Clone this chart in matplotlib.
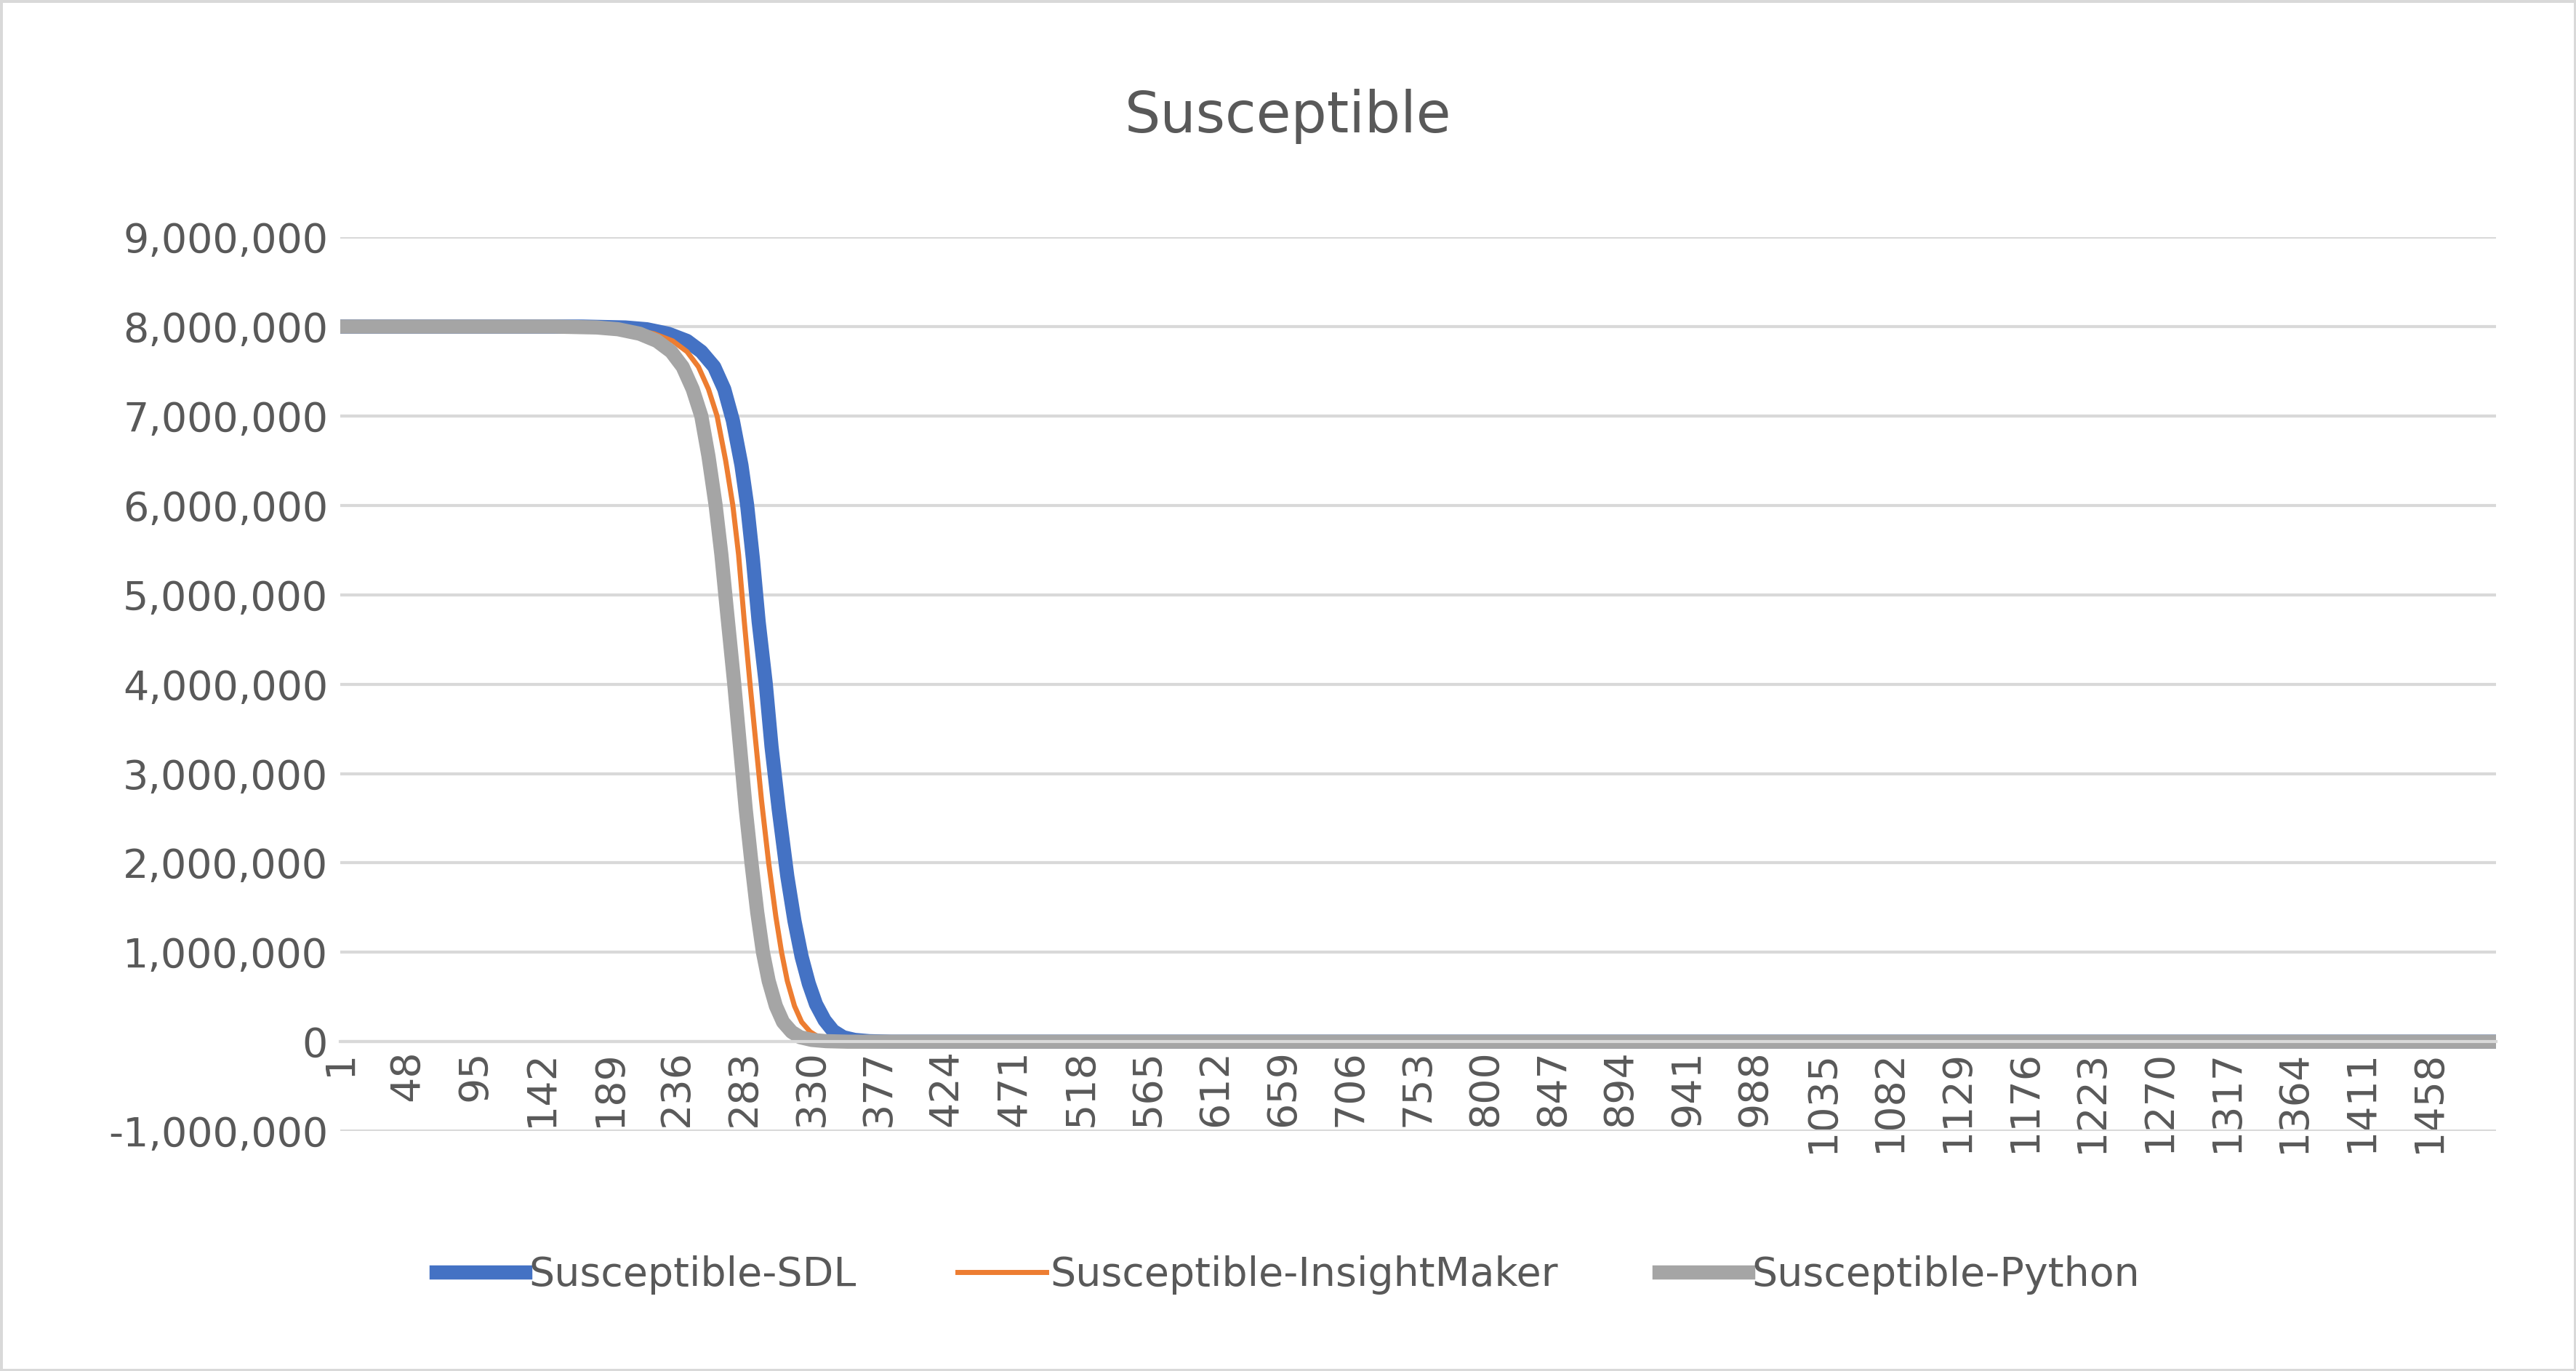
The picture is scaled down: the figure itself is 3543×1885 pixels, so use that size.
import matplotlib
matplotlib.use("Agg")
import matplotlib.pyplot as plt
from matplotlib.ticker import FuncFormatter

# values (day, susceptible count in millions)
days_python = [1, 150, 180, 195, 210, 222, 232, 240, 247, 253, 258, 263, 267, 271, 276, 280, 284, 288, 292, 296, 300, 305, 310, 316, 322, 330, 340, 355, 1500]
vals_python = [8.0, 8.0, 7.99, 7.97, 7.92, 7.84, 7.72, 7.55, 7.3, 7.0, 6.55, 6.0, 5.45, 4.8, 4.0, 3.3, 2.6, 2.0, 1.45, 1.0, 0.68, 0.4, 0.22, 0.11, 0.05, 0.02, 0.006, 0.0, 0.0]

days_insight = [1, 160, 190, 205, 220, 233, 243, 251, 258, 264, 270, 275, 279, 283, 287, 291, 295, 300, 305, 309, 313, 318, 323, 329, 335, 343, 353, 368, 1500]
vals_insight = [8.0, 8.0, 7.99, 7.97, 7.92, 7.84, 7.72, 7.55, 7.3, 7.0, 6.5, 6.0, 5.45, 4.7, 4.0, 3.35, 2.7, 2.0, 1.4, 1.0, 0.68, 0.4, 0.22, 0.11, 0.05, 0.02, 0.006, 0.0, 0.0]

days_sdl = [1, 170, 200, 215, 230, 243, 253, 262, 269, 275, 281, 285, 289, 293, 298, 302, 307, 313, 318, 323, 328, 333, 339, 345, 352, 360, 370, 385, 1500]
vals_sdl = [8.0, 8.0, 7.99, 7.97, 7.92, 7.84, 7.72, 7.55, 7.3, 6.95, 6.45, 6.0, 5.4, 4.7, 4.0, 3.3, 2.6, 1.85, 1.35, 0.95, 0.65, 0.42, 0.24, 0.12, 0.05, 0.02, 0.006, 0.0, 0.0]

tick_days = list(range(1, 1459, 47))
grey = "#595959"

fig = plt.figure(figsize=(35.43, 18.85), dpi=100)
fig.patch.set_edgecolor("#d9d9d9")
fig.patch.set_linewidth(5)
ax = fig.add_axes([0.132, 0.175, 0.837, 0.652])

ax.plot(days_sdl, [v * 1e6 for v in vals_sdl], color="#4472c4", lw=14, label="Susceptible-SDL")
ax.plot(days_insight, [v * 1e6 for v in vals_insight], color="#ed7d31", lw=5, label="Susceptible-InsightMaker")
ax.plot(days_python, [v * 1e6 for v in vals_python], color="#a5a5a5", lw=14, label="Susceptible-Python")

ax.set_xlim(1, 1505)
ax.set_ylim(-1e6, 9e6)
ax.spines["bottom"].set_position(("data", 0))
ax.set_yticks(range(-1000000, 9000001, 1000000))
ax.yaxis.set_major_formatter(FuncFormatter(lambda v, p: f"{int(v):,}"))
ax.set_xticks(tick_days)
ax.set_xticklabels([str(d) for d in tick_days])
ax.grid(axis="y", color="#d9d9d9", lw=3)
ax.set_axisbelow(True)
for s in ["top", "right", "left"]:
    ax.spines[s].set_visible(False)
ax.spines["bottom"].set_color("#d9d9d9")
ax.spines["bottom"].set_linewidth(3)
ax.tick_params(axis="both", length=0, labelsize=40, colors=grey, pad=12)
ax.tick_params(axis="x", labelrotation=90, pad=8)

fig.text(0.5, 0.915, "Susceptible", ha="center", va="center", fontsize=56, color=grey)
fig.legend(loc="center", bbox_to_anchor=(0.5, 0.07), ncol=3, frameon=False,
           fontsize=40, labelcolor=grey, handlelength=2.2, columnspacing=2.5, handletextpad=0.1)

fig.savefig("out.png", dpi=100, edgecolor=fig.get_edgecolor())
